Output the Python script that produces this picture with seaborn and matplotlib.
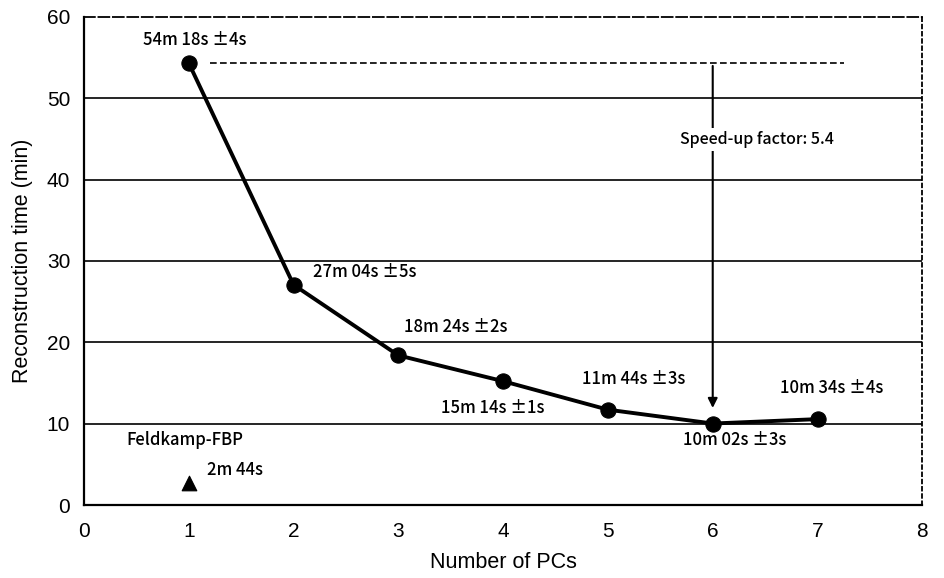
import matplotlib
matplotlib.use("Agg")
import matplotlib.pyplot as plt
import seaborn as sns
import pandas as pd

pcs = [1, 2, 3, 4, 5, 6, 7]
times_min = [54.30, 27.07, 18.40, 15.23, 11.73, 10.03, 10.57]
time_labels = ["54m 18s \u00b14s", "27m 04s \u00b15s", "18m 24s \u00b12s", "15m 14s \u00b11s",
               "11m 44s \u00b13s", "10m 02s \u00b13s", "10m 34s \u00b14s"]
fbp_pcs = [1]
fbp_time = [2.73]
fbp_label = "2m 44s"
speedup_text = "Speed-up factor: 5.4"
x_ticks = [0, 1, 2, 3, 4, 5, 6, 7, 8]
y_ticks = [0, 10, 20, 30, 40, 50, 60]

sns.set_theme(style="white")
plt.rcParams['font.family'] = ['Liberation Sans', 'DejaVu Sans']
lab_font = ['Noto Sans CJK JP', 'DejaVu Sans']

fig = plt.figure(figsize=(9.44, 5.78), dpi=100)
ax = fig.add_axes([0.089, 0.126, 0.888, 0.845])

df = pd.DataFrame({"pcs": pcs, "t": times_min})
sns.lineplot(data=df, x="pcs", y="t", ax=ax, color="black", linewidth=2.8,
             marker="o", markersize=11, markeredgecolor="black", zorder=4)
sns.scatterplot(x=fbp_pcs, y=fbp_time, ax=ax, marker="^", s=110, color="black",
                edgecolor="black", zorder=4)

ax.set_xlim(0, 8)
ax.set_ylim(0, 60)
ax.set_xticks(x_ticks)
ax.set_yticks(y_ticks)
ax.tick_params(axis="x", direction="in", length=5, width=1.2, labelsize=15, pad=12, colors="black")
ax.tick_params(axis="y", direction="in", length=5, width=1.2, labelsize=15, pad=10, colors="black")
for yv in y_ticks[1:-1]:
    ax.axhline(yv, color="black", linewidth=1.2, zorder=1)

for side in ["left", "bottom"]:
    ax.spines[side].set_color("black")
    ax.spines[side].set_linewidth(1.6)
ax.spines["top"].set_linestyle((0, (6, 2)))
ax.spines["top"].set_color("black")
ax.spines["top"].set_linewidth(1.3)
ax.spines["right"].set_linestyle((0, (2, 2)))
ax.spines["right"].set_color("black")
ax.spines["right"].set_linewidth(1.3)

ax.set_xlabel("Number of PCs", fontsize=15.5, labelpad=8, color="black")
ax.set_ylabel("Reconstruction time (min)", fontsize=15.5, labelpad=10, color="black")

# point labels (x, y, ha)
lab_pos = [(1.06, 57.2, "center"), (2.19, 28.7, "left"), (3.05, 21.9, "left"),
           (3.41, 11.9, "left"), (4.75, 15.5, "left"), (5.72, 8.0, "left"),
           (6.64, 14.4, "left")]
for (lx, ly, ha), txt in zip(lab_pos, time_labels):
    ax.text(lx, ly, txt, ha=ha, va="center", fontsize=12, color="black", zorder=5,
            family=lab_font, weight="medium")

ax.text(0.40, 8.0, "Feldkamp-FBP", ha="left", va="center", fontsize=12, color="black",
        family=lab_font, weight="medium")
ax.text(1.17, 4.3, fbp_label, ha="left", va="center", fontsize=12, color="black",
        family=lab_font, weight="medium")

# speed-up indicator
ax.plot([1.2, 7.25], [times_min[0], times_min[0]], color="black", linewidth=1.2,
        linestyle=(0, (4, 2)), zorder=2)
ax.annotate("", xy=(6, 11.6), xytext=(6, times_min[0]),
            arrowprops=dict(arrowstyle="-|>", color="black", lw=1.5, mutation_scale=14), zorder=3)
ax.text(6.42, 44.9, speedup_text, ha="center", va="center", fontsize=11.5, color="black",
        family=lab_font, weight="medium",
        bbox=dict(facecolor="white", edgecolor="none", pad=2), zorder=4)

fig.savefig("out.png", dpi=100)
